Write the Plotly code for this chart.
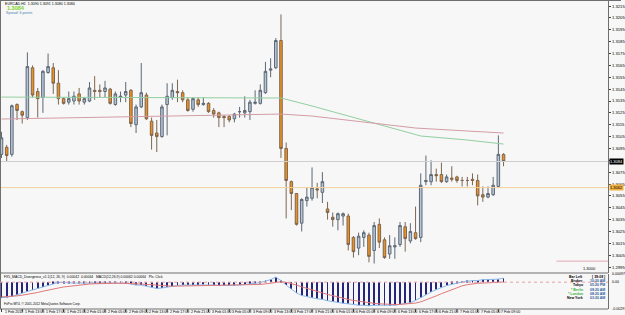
import plotly.graph_objects as go
import pandas as pd

W, H = 625, 315

# ---- bar times (EURCAD H1, broker time) ----
times = list(pd.date_range("2012-02-01 09:00", "2012-02-03 23:00", freq="h")) + \
        list(pd.date_range("2012-02-06 00:00", "2012-02-07 10:00", freq="h"))
cats = [t.strftime("%Y-%m-%d %H:%M") for t in times]

# ---- OHLC ----
open_ = [1.3090, 1.3096, 1.3090, 1.3132, 1.3126, 1.3121, 1.3163, 1.3143, 1.3138, 1.3159,
         1.3163, 1.3150, 1.3137, 1.3134, 1.3135, 1.3141, 1.3134, 1.3135, 1.3144, 1.3144,
         1.3143, 1.3145, 1.3132, 1.3138, 1.3140, 1.3144, 1.3115, 1.3130, 1.3140, 1.3118,
         1.3108, 1.3105, 1.3132, 1.3138, 1.3143, 1.3142, 1.3136, 1.3128, 1.3136, 1.3132,
         1.3133, 1.3127, 1.3125, 1.3122, 1.3122, 1.3120, 1.3126, 1.3125, 1.3126, 1.3133,
         1.3133, 1.3142, 1.3161, 1.3163, 1.3186, 1.3095, 1.3067, 1.3057, 1.3032, 1.3051,
         1.3053, 1.3061, 1.3058, 1.3044, 1.3037, 1.3035, 1.3038, 1.3038, 1.3020, 1.3011,
         1.3020, 1.3022, 1.3009, 1.3031, 1.3018, 1.3006, 1.3012, 1.3014, 1.3029, 1.3017,
         1.3024, 1.3020, 1.3067, 1.3067, 1.3073, 1.3073, 1.3067, 1.3070, 1.3071, 1.3068,
         1.3068, 1.3069, 1.3068, 1.3056, 1.3054, 1.3056, 1.3063, 1.3090]
high = [1.3109, 1.3098, 1.3132, 1.3133, 1.3127, 1.3176, 1.3165, 1.3146, 1.3161, 1.3175,
        1.3167, 1.3161, 1.3138, 1.3143, 1.3143, 1.3146, 1.3138, 1.3151, 1.3156, 1.3149,
        1.3152, 1.3146, 1.3143, 1.3143, 1.3151, 1.3145, 1.3132, 1.3167, 1.3142, 1.3121,
        1.3119, 1.3132, 1.3150, 1.3150, 1.3153, 1.3144, 1.3138, 1.3138, 1.3138, 1.3138,
        1.3134, 1.3129, 1.3126, 1.3123, 1.3123, 1.3125, 1.3130, 1.3139, 1.3136, 1.3144,
        1.3149, 1.3168, 1.3171, 1.3188, 1.3208, 1.3100, 1.3068, 1.3057, 1.3053, 1.3062,
        1.3079, 1.3066, 1.3075, 1.3050, 1.3041, 1.3041, 1.3041, 1.3040, 1.3021, 1.3024,
        1.3026, 1.3024, 1.3033, 1.3036, 1.3020, 1.3022, 1.3020, 1.3033, 1.3033, 1.3032,
        1.3046, 1.3074, 1.3089, 1.3085, 1.3078, 1.3083, 1.3073, 1.3080, 1.3072, 1.3071,
        1.3071, 1.3074, 1.3073, 1.3063, 1.3063, 1.3071, 1.3106, 1.3091]
low = [1.3087, 1.3084, 1.3088, 1.3119, 1.3116, 1.3119, 1.3138, 1.3121, 1.3125, 1.3158,
       1.3141, 1.3132, 1.3132, 1.3132, 1.3132, 1.3132, 1.3132, 1.3134, 1.3136, 1.3138,
       1.3138, 1.3132, 1.3131, 1.3134, 1.3134, 1.3113, 1.3108, 1.3129, 1.3119, 1.3094,
       1.3092, 1.3104, 1.3106, 1.3136, 1.3134, 1.3134, 1.3126, 1.3126, 1.3130, 1.3131,
       1.3125, 1.3121, 1.3113, 1.3113, 1.3117, 1.3117, 1.3121, 1.3121, 1.3119, 1.3132,
       1.3132, 1.3141, 1.3155, 1.3162, 1.3087, 1.3036, 1.3043, 1.3030, 1.3025, 1.3046,
       1.3051, 1.3053, 1.3049, 1.3035, 1.3029, 1.3026, 1.3030, 1.3009, 1.3003, 1.3005,
       1.3012, 1.2999, 1.2998, 1.3011, 1.3002, 1.3002, 1.3002, 1.3012, 1.3008, 1.3015,
       1.3018, 1.3016, 1.3064, 1.3064, 1.3067, 1.3066, 1.3066, 1.3067, 1.3066, 1.3063,
       1.3063, 1.3064, 1.3047, 1.3050, 1.3053, 1.3055, 1.3062, 1.3080]
close = [1.3104, 1.3089, 1.3131, 1.3127, 1.3123, 1.3164, 1.3140, 1.3137, 1.3160, 1.3164,
         1.3150, 1.3137, 1.3133, 1.3137, 1.3139, 1.3135, 1.3137, 1.3146, 1.3143, 1.3143,
         1.3146, 1.3133, 1.3141, 1.3139, 1.3143, 1.3116, 1.3130, 1.3142, 1.3120, 1.3106,
         1.3105, 1.3130, 1.3139, 1.3144, 1.3142, 1.3136, 1.3127, 1.3137, 1.3132, 1.3133,
         1.3126, 1.3124, 1.3121, 1.3121, 1.3119, 1.3124, 1.3126, 1.3127, 1.3134, 1.3134,
         1.3144, 1.3160, 1.3162, 1.3186, 1.3095, 1.3068, 1.3057, 1.3031, 1.3052, 1.3054,
         1.3062, 1.3060, 1.3067, 1.3041, 1.3035, 1.3040, 1.3040, 1.3014, 1.3008, 1.3021,
         1.3024, 1.3004, 1.3030, 1.3016, 1.3003, 1.3013, 1.3013, 1.3030, 1.3019, 1.3025,
         1.3019, 1.3064, 1.3068, 1.3073, 1.3072, 1.3067, 1.3071, 1.3069, 1.3068, 1.3068,
         1.3068, 1.3068, 1.3055, 1.3054, 1.3057, 1.3064, 1.3090, 1.3084]

# ---- moving averages, read at sample bars ----
ma_green_bars = [0, 20, 40, 54, 60, 70, 77, 81, 90, 97]
ma_green = [1.31383, 1.31379, 1.31379, 1.31375, 1.31308, 1.31190, 1.31105, 1.31055, 1.31021, 1.30987]
ma_red_bars = [0, 20, 38, 54, 60, 70, 75, 80, 90, 97]
ma_red = [1.31198, 1.31215, 1.31232, 1.31240, 1.31223, 1.31173, 1.31147, 1.31122, 1.31097, 1.31080]

# ---- MACD pane ----
macd = [-0.00175, -0.00170, -0.00159, -0.00142, -0.00120, -0.00104, -0.00087, -0.00071, -0.00054, -0.00038,
        -0.00021, -0.00004, -0.00004, -0.00010, -0.00010, -0.00010, -0.00010, -0.00004, -0.00004, -0.00004,
        -0.00004, -0.00010, -0.00010, -0.00010, -0.00010, -0.00021, -0.00032, -0.00032, -0.00043, -0.00060,
        -0.00071, -0.00065, -0.00054, -0.00043, -0.00038, -0.00032, -0.00032, -0.00032, -0.00032, -0.00026,
        -0.00032, -0.00032, -0.00038, -0.00038, -0.00038, -0.00038, -0.00032, -0.00026, -0.00021, -0.00015,
        -0.00004, 0.00012, 0.00029, 0.00056, 0.00018, -0.00032, -0.00076, -0.00120, -0.00148, -0.00164,
        -0.00175, -0.00186, -0.00192, -0.00208, -0.00219, -0.00230, -0.00236, -0.00242, -0.00253, -0.00258,
        -0.00258, -0.00264, -0.00258, -0.00258, -0.00264, -0.00264, -0.00258, -0.00247, -0.00242, -0.00231,
        -0.00203, -0.00175, -0.00142, -0.00109, -0.00082, -0.00060, -0.00038, -0.00021, -0.00010, 0.00001,
        0.00012, 0.00018, 0.00018, 0.00029, 0.00029, 0.00029, 0.00034, 0.00045]
signal = [-0.00164, -0.00162, -0.00159, -0.00153, -0.00146, -0.00137, -0.00126, -0.00115, -0.00101, -0.00087,
          -0.00076, -0.00065, -0.00054, -0.00046, -0.00039, -0.00032, -0.00026, -0.00021, -0.00018, -0.00015,
          -0.00013, -0.00012, -0.00012, -0.00012, -0.00012, -0.00014, -0.00018, -0.00021, -0.00025, -0.00032,
          -0.00039, -0.00043, -0.00045, -0.00045, -0.00044, -0.00043, -0.00041, -0.00039, -0.00038, -0.00035,
          -0.00035, -0.00035, -0.00035, -0.00035, -0.00035, -0.00035, -0.00035, -0.00034, -0.00032, -0.00029,
          -0.00025, -0.00019, -0.00010, 0.00001, 0.00004, -0.00002, -0.00015, -0.00032, -0.00052, -0.00071,
          -0.00087, -0.00104, -0.00120, -0.00137, -0.00153, -0.00168, -0.00181, -0.00193, -0.00204, -0.00214,
          -0.00223, -0.00231, -0.00237, -0.00242, -0.00246, -0.00249, -0.00250, -0.00248, -0.00244, -0.00239,
          -0.00234, -0.00220, -0.00200, -0.00179, -0.00153, -0.00129, -0.00106, -0.00082, -0.00060, -0.00041,
          -0.00028, -0.00017, -0.00012, -0.00010, -0.00009, -0.00008, -0.00007, 0.00002]

# ---- axis labels ----
price_ticks = [round(1.2995 + 0.001 * k, 4) for k in range(23)]
time_labels = ["1 Feb 2012", "1 Feb 13:00", "1 Feb 17:00", "1 Feb 21:00", "2 Feb 01:00",
               "2 Feb 05:00", "2 Feb 09:00", "2 Feb 13:00", "2 Feb 17:00", "2 Feb 21:00",
               "3 Feb 01:00", "3 Feb 05:00", "3 Feb 09:00", "3 Feb 13:00", "3 Feb 17:00",
               "3 Feb 21:00", "6 Feb 01:00", "6 Feb 05:00", "6 Feb 09:00", "6 Feb 13:00",
               "6 Feb 17:00", "6 Feb 21:00", "7 Feb 01:00", "7 Feb 05:00", "7 Feb 09:00"]
time_label_step = 4

bid = 1.3084
orange_level = 1.3062
red_level = 1.3000
macd_labels = [0.00097, 0.0, -0.00297]
macd_label_text = ["0.00097", "0.00", "-0.00297"]

FONT = "Liberation Sans"
BG = "#f7f7f7"
FRAME = "#6e6e6e"


def py(p):  # pixel row -> paper
    return 1 - p / H


def pxp(p):  # pixel column -> paper
    return p / W


XR = 612  # right edge of chart panes (px)

fig = go.Figure()

fig.add_trace(go.Candlestick(
    x=cats, open=open_, high=high, low=low, close=close,
    increasing=dict(fillcolor="#b5c6db", line=dict(color="#5d6873", width=1)),
    decreasing=dict(fillcolor="#f0901c", line=dict(color="#7d6650", width=1)),
    whiskerwidth=0, showlegend=False, xaxis="x", yaxis="y", hoverinfo="skip"))

fig.add_trace(go.Scatter(x=[cats[i] for i in ma_green_bars], y=ma_green, mode="lines",
                         line=dict(color="#92cfa0", width=1), xaxis="x", yaxis="y",
                         showlegend=False, hoverinfo="skip"))
fig.add_trace(go.Scatter(x=[cats[i] for i in ma_red_bars], y=ma_red, mode="lines",
                         line=dict(color="#d39ca6", width=1), xaxis="x", yaxis="y",
                         showlegend=False, hoverinfo="skip"))

fig.add_trace(go.Bar(x=cats, y=macd, width=0.17, marker=dict(color="#25257a", line=dict(width=0)),
                     xaxis="x2", yaxis="y2", showlegend=False, hoverinfo="skip"))
fig.add_trace(go.Scatter(x=cats, y=macd, mode="lines", line=dict(color="#8ab8e8", width=1),
                         xaxis="x2", yaxis="y2", showlegend=False, hoverinfo="skip"))
fig.add_trace(go.Scatter(x=cats, y=signal, mode="lines", line=dict(color="#e07878", width=1),
                         xaxis="x2", yaxis="y2", showlegend=False, hoverinfo="skip"))

xr = [-0.29, 117.2]
# the bid tag covers the nearest tick label, as in the terminal
tick_text = ["" if abs(v - bid) < 0.0003 else f"{v:.4f}" for v in price_ticks]
fig.update_layout(
    width=W, height=H, margin=dict(l=0, r=0, t=0, b=0),
    paper_bgcolor=BG, plot_bgcolor=BG, boxgap=0.3,
    font=dict(family=FONT, size=4, color="#000000"),
    xaxis=dict(domain=[0, pxp(XR)], range=xr, type="category", showticklabels=False,
               showgrid=False, zeroline=False, rangeslider=dict(visible=False), anchor="y",
               fixedrange=True),
    yaxis=dict(domain=[py(273), py(1)], range=[1.29900, 1.32193], side="right", anchor="x",
               tickvals=price_ticks, ticktext=tick_text,
               ticks="outside", ticklen=2, tickcolor="#404040", tickfont=dict(size=4.2),
               showline=True, linecolor=FRAME, linewidth=1, showgrid=False, zeroline=False),
    xaxis2=dict(domain=[0, pxp(XR)], range=xr, type="category", showticklabels=False,
                showgrid=False, zeroline=False, anchor="y2", matches="x"),
    yaxis2=dict(domain=[py(309), py(273.5)], range=[-0.00300, 0.00097], side="right",
                anchor="x2", showticklabels=False, showline=True, linecolor=FRAME, linewidth=1,
                showgrid=False, zeroline=False),
)

# horizontal levels
fig.add_shape(type="line", xref="paper", yref="y", x0=0, x1=pxp(XR), y0=bid, y1=bid,
              line=dict(color="#cfcfcf", width=1))
fig.add_shape(type="line", xref="paper", yref="y", x0=0, x1=pxp(XR), y0=orange_level, y1=orange_level,
              line=dict(color="#f2d19c", width=1))
fig.add_shape(type="line", xref="paper", yref="y", x0=pxp(560), x1=pxp(XR), y0=red_level, y1=red_level,
              line=dict(color="#e2a9b8", width=1))
fig.add_annotation(xref="paper", yref="y", x=pxp(602), y=red_level, yshift=-3, text="1.3000",
                   showarrow=False, xanchor="right", yanchor="top", font=dict(size=4, color="#000"))

# price tags
fig.add_annotation(xref="paper", yref="y", x=pxp(XR + 1), y=bid, text="1.3084", showarrow=False,
                   xanchor="left", yanchor="middle", bgcolor="#000000", font=dict(size=4, color="#ffffff"),
                   borderpad=0)
fig.add_annotation(xref="paper", yref="y", x=pxp(XR + 1), y=orange_level, text="1.3062", showarrow=False,
                   xanchor="left", yanchor="middle", bgcolor="#f0b040", font=dict(size=4, color="#000000"),
                   borderpad=0)

# frame lines
for (x0, y0, x1, y1) in [(0, 0.5, W, 0.5), (0.5, 0, 0.5, 309), (0, 273, XR, 273), (0, 309, XR, 309)]:
    fig.add_shape(type="line", xref="paper", yref="paper", x0=pxp(x0), x1=pxp(x1), y0=py(y0), y1=py(y1),
                  line=dict(color=FRAME, width=1))

# zero line in MACD pane
fig.add_shape(type="line", xref="paper", yref="y2", x0=0, x1=pxp(XR), y0=0, y1=0,
              line=dict(color="#eaa0a0", width=1, dash="dot"))

# MACD axis labels
for v, t in zip(macd_labels, macd_label_text):
    fig.add_annotation(xref="paper", yref="y2", x=pxp(XR + 2), y=v, text=t, showarrow=False,
                       xanchor="left", yanchor="middle", font=dict(size=3.6))

# time axis labels
for k, lab in enumerate(time_labels):
    i = k * time_label_step
    fig.add_shape(type="line", xref="x2", yref="paper", x0=i, x1=i, y0=py(309), y1=py(312),
                  line=dict(color="#404040", width=1))
    fig.add_annotation(xref="x2", yref="paper", x=i, y=py(312), text=lab, showarrow=False,
                       xanchor="left", yanchor="middle", xshift=1, font=dict(size=3.6))

# top-left texts
fig.add_annotation(xref="paper", yref="paper", x=pxp(3), y=py(4), text="EURCAD,H1  1.3090 1.3091 1.3080 1.3084",
                   showarrow=False, xanchor="left", yanchor="middle", font=dict(size=3.6))
fig.add_annotation(xref="paper", yref="paper", x=pxp(5), y=py(8), text="<b>1.3084</b>",
                   showarrow=False, xanchor="left", yanchor="middle", font=dict(size=5.5, color="#7ad321"))
fig.add_annotation(xref="paper", yref="paper", x=pxp(4), y=py(13.5), text="Spread: 6 points",
                   showarrow=False, xanchor="left", yanchor="middle", font=dict(size=3.6, color="#4a7ab0"))

# MACD pane title and copyright
fig.add_annotation(xref="paper", yref="paper", x=pxp(2), y=py(277), text=
                   "FX5_MACD_Divergence_v1.1(12, 26, 9)  0.00042  0.00064   MACD(12,26,9) 0.00062 0.00064   Pls. Click",
                   showarrow=False, xanchor="left", yanchor="middle", font=dict(size=3.4))
fig.add_annotation(xref="paper", yref="paper", x=pxp(2), y=py(304), text="FxPro MT4, © 2001-2012 MetaQuotes Software Corp.",
                   showarrow=False, xanchor="left", yanchor="middle", font=dict(size=3.2))

# clock block
clock_names = ["Bar Left", "Broker", "Tokyo", "* Berlin", "* London", "New York"]
clock_vals = ["[ 39:09 ]", "10:20 AM", "05:20 PM", "09:20 AM", "08:20 AM", "03:20 AM"]
clock_colors = ["#000000", "#000000", "#000000", "#3cb043", "#3cb043", "#000000"]
val_colors = ["#000000", "#2c5d9c", "#2c5d9c", "#2c5d9c", "#2c5d9c", "#2c5d9c"]
for j, (n, v) in enumerate(zip(clock_names, clock_vals)):
    yy = 277 + j * 4.2
    fig.add_annotation(xref="paper", yref="paper", x=pxp(589), y=py(yy), text=f"<b>{n}</b>", showarrow=False,
                       xanchor="right", yanchor="middle", font=dict(size=3.5, color=clock_colors[j]))
    fig.add_annotation(xref="paper", yref="paper", x=pxp(611), y=py(yy), text=f"<b>{v}</b>", showarrow=False,
                       xanchor="right", yanchor="middle", font=dict(size=3.5, color=val_colors[j]))

fig.write_html("out.html")
